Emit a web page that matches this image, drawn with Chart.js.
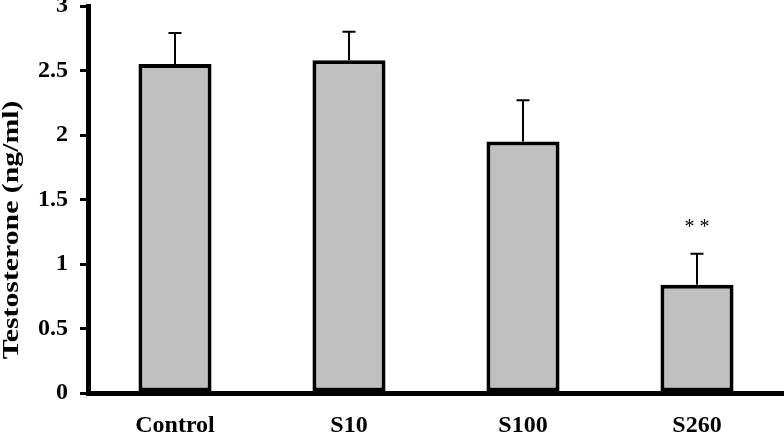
<!DOCTYPE html>
<html>
<head>
<meta charset="utf-8">
<script src="https://cdn.jsdelivr.net/npm/chart.js@4/dist/chart.umd.min.js"></script>
<style>
    html, body { margin: 0; padding: 0; background: #fff; }
    #wrap { width: 784px; height: 433px; }
</style>
</head>
<body>
<div id="wrap"><canvas id="testo-chart"></canvas></div>
<script>
// data
const groups = ["Control", "S10", "S100", "S260"];
const testosterone = [2.55, 2.58, 1.95, 0.84];
const errUp = [0.24, 0.22, 0.32, 0.24];
const sigMarks = ["", "", "", "**"];
const yTicks = [0, 0.5, 1, 1.5, 2, 2.5, 3];
const yTitle = "Testosterone (ng/ml)";

const serif = '"Liberation Serif", "Times New Roman", serif';

// error bars (upper only) + significance stars
const errorBarPlugin = {
    id: "errorBars",
    afterDatasetsDraw(chart) {
        const ctx = chart.ctx;
        const meta = chart.getDatasetMeta(0);
        const y = chart.scales.y;
        ctx.save();
        ctx.strokeStyle = "#000";
        ctx.lineWidth = 2;
        meta.data.forEach((bar, i) => {
            const yBar = y.getPixelForValue(testosterone[i]);
            const yTop = y.getPixelForValue(testosterone[i] + errUp[i]);
            ctx.beginPath();
            ctx.moveTo(bar.x, yBar);
            ctx.lineTo(bar.x, yTop);
            ctx.moveTo(bar.x - 6.5, yTop);
            ctx.lineTo(bar.x + 6.5, yTop);
            ctx.stroke();

            if (sigMarks[i]) {
                ctx.fillStyle = "#000";
                ctx.font = "20px " + serif;
                ctx.letterSpacing = "5px";
                ctx.textAlign = "center";
                ctx.textBaseline = "middle";
                ctx.fillText(sigMarks[i], bar.x + 2.5, yTop - 26);
            }
        });
        ctx.restore();
    },
};

// y title drawn a bit stretched, like the original figure
const yTitlePlugin = {
    id: "yTitle",
    afterDraw(chart) {
        const ctx = chart.ctx;
        ctx.save();
        ctx.translate(12, 230);
        ctx.rotate(-Math.PI / 2);
        ctx.scale(1.24, 1);
        ctx.fillStyle = "#000";
        ctx.font = "bold 24px " + serif;
        ctx.textAlign = "center";
        ctx.textBaseline = "middle";
        ctx.fillText(yTitle, 0, 0);
        ctx.restore();
    },
};

const canvas = document.getElementById("testo-chart");

const config = {
    type: "bar",
    data: {
        labels: groups,
        datasets: [
            {
                data: testosterone,
                backgroundColor: "#c0c0c0",
                borderColor: "#000",
                borderWidth: 4,
                borderSkipped: false,
                categoryPercentage: 1,
                barPercentage: 0.42,
            },
        ],
    },
    options: {
        responsive: true,
        maintainAspectRatio: false,
        animation: false,
        layout: {
            padding: { top: 0, right: 0, bottom: 0, left: 0 },
        },
        scales: {
            x: {
                grid: { display: false, drawTicks: false },
                border: { display: true, width: 5, color: "#000" },
                ticks: {
                    color: "#000",
                    padding: 18,
                    font: { family: serif, size: 24, weight: "bold" },
                },
                afterFit(scale) {
                    scale.height = 40;
                },
            },
            y: {
                min: 0,
                max: 3,
                afterBuildTicks(scale) {
                    scale.ticks = yTicks.map((v) => ({ value: v }));
                },
                grid: {
                    drawOnChartArea: false,
                    drawTicks: true,
                    tickLength: 8,
                    lineWidth: 3,
                    color: "#000",
                },
                border: { display: true, width: 5, color: "#000" },
                ticks: {
                    color: "#000",
                    padding: 12,
                    font: { family: serif, size: 24, weight: "bold" },
                    callback: (value) => String(value),
                },
                afterFit(scale) {
                    scale.width = 88;
                    scale.paddingTop = 6;
                    scale.paddingBottom = 0;
                },
            },
        },
        plugins: {
            legend: { display: false },
            tooltip: { enabled: false },
        },
    },
    plugins: [errorBarPlugin, yTitlePlugin],
};

canvas.chart = new Chart(canvas, config);
</script>
</body>
</html>
